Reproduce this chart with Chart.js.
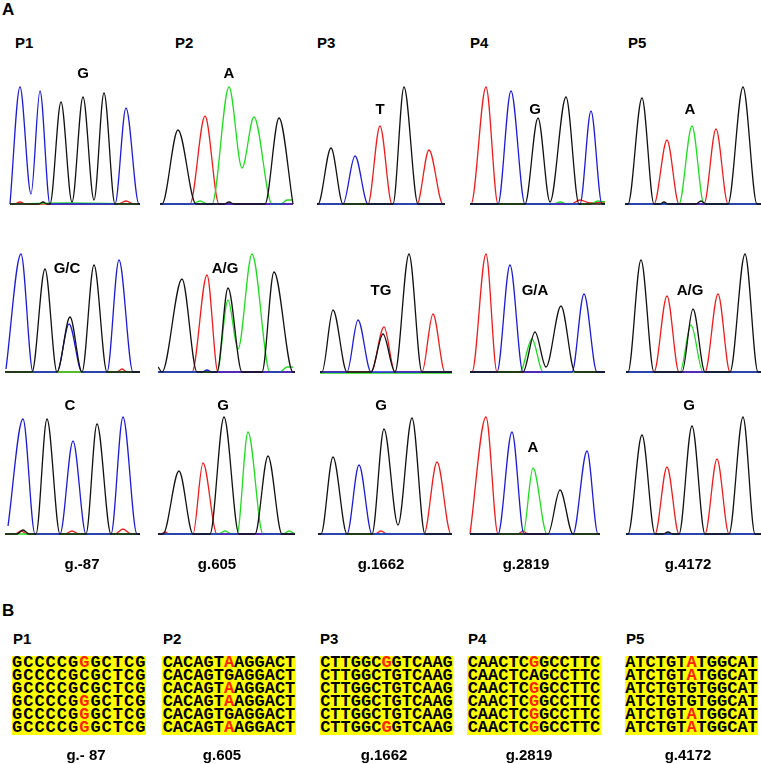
<!DOCTYPE html>
<html>
<head>
<meta charset="utf-8">
<script src="https://cdn.jsdelivr.net/npm/chart.js@4"></script>
<style>
  body { margin: 0; background: #fff; }
  #fig { position: relative; width: 761px; height: 764px; overflow: hidden; background: #fff;
         font-family: Arial, "Liberation Sans", sans-serif; font-weight: bold; color: #000; }
  .lbl { position: absolute; white-space: nowrap; font-size: 15px; line-height: 1; }
  .ctr { transform: translate(-50%, -50%); }
  .lft { transform: translateY(-50%); }
  .big { font-size: 17px; }
  .panel { position: absolute; width: 137px; height: 128px; }
  .seq { position: absolute; background: #ffff00; height: 79px; font-family: "Liberation Mono", "DejaVu Sans Mono", monospace;
         font-weight: bold; font-size: 17px; line-height: 13px; text-align: center; overflow: hidden; }
  .seq span.mut { color: #ff2200; }
</style>
</head>
<body>
<div id="fig"></div>
<script>
// Nombres de muestras y posiciones
const panelNames = ['P1', 'P2', 'P3', 'P4', 'P5'];
const variantsA = ['g.-87', 'g.605', 'g.1662', 'g.2819', 'g.4172'];
const variantsB = ['g.- 87', 'g.605', 'g.1662', 'g.2819', 'g.4172'];
const baseCalls = [
    ['G', 'A', 'T', 'G', 'A'],
    ['G/C', 'A/G', 'TG', 'G/A', 'A/G'],
    ['C', 'G', 'G', 'A', 'G']
];

// Picos de los cromatogramas: [posición, altura] por color
const r1p1 = {
    black: [[5,0],[34,0],[38,2],[42,0],[45,0],[56,102],[67,2],[78,107],[89,4],[99,111],[110,0],[135,0]],
    blue:  [[5,0],[15,117],[26,10],[35,113],[45,0],[110,0],[121,96],[134,0],[135,0]],
    green: [[5,0],[60,1],[135,0]],
    red:   [[5,0],[9,0],[15,2],[21,0],[113,0],[121,3],[129,0],[135,0]]
};
const r1p2 = {
    black: [[2,0],[4,0],[20,74],[38,0],[66,0],[71,2],[76,0],[107,0],[121,86],[135,0]],
    blue:  [[2,0],[135,0]],
    green: [[2,0],[34,0],[42,3],[50,0],[54,0],[71,117],[84,36],[96,87],[114,0],[123,0],[129,4],[135,4]],
    red:   [[2,0],[32,0],[47,88],[61,0],[135,0]]
};
const r1p3 = {
    black: [[2,0],[3,0],[16,56],[28,0],[78,0],[89,117],[103,0],[130,0]],
    blue:  [[2,0],[28,0],[40,48],[53,0],[130,0]],
    green: [[2,0],[130,0]],
    red:   [[2,0],[53,0],[65,78],[77,0],[102,0],[114,54],[128,0],[130,0]]
};
const r1p4 = {
    black: [[2,0],[57,0],[70,86],[82,2],[98,107],[111,0],[137,0]],
    blue:  [[2,0],[30,0],[43,113],[57,0],[112,0],[123,93],[134,0],[137,0]],
    green: [[2,0],[85,0],[92,2],[100,0],[122,0],[130,3],[137,2]],
    red:   [[2,0],[3,0],[18,117],[30,0],[103,0],[112,4],[122,1],[137,2]]
};
const r1p5 = {
    black: [[1,0],[4,0],[18,106],[30,0],[36,0],[40,2],[44,0],[72,0],[77,3],[82,0],[104,0],[119,117],[133,0],[137,0]],
    blue:  [[1,0],[137,0]],
    green: [[1,0],[55,0],[68,78],[80,0],[137,0]],
    red:   [[1,0],[30,0],[43,64],[55,0],[80,0],[92,75],[104,0],[137,0]]
};
const r2p1 = {
    black: [[0,0],[27,0],[40,103],[52,0],[65,55],[77,0],[89,107],[102,0],[135,0]],
    blue:  [[1,3],[16,118],[28,0],[52,0],[64,48],[77,0],[102,0],[114,112],[128,0],[135,0]],
    green: [[0,0],[135,0]],
    red:   [[0,0],[112,0],[117,3],[122,0],[135,0]]
};
const r2p2 = {
    black: [[0,5],[4,0],[24,93],[39,0],[59,0],[70,84],[84,0],[104,0],[116,100],[135,0],[137,0]],
    blue:  [[0,0],[44,0],[49,2],[54,0],[137,0]],
    green: [[0,0],[59,0],[70,72],[80,23],[94,118],[112,0],[122,0],[129,5],[135,5]],
    red:   [[0,0],[34,0],[49,97],[60,0],[137,0]]
};
const r2p3 = {
    black: [[5,0],[7,0],[18,62],[32,0],[56,0],[68,38],[80,0],[94,118],[107,0],[137,0]],
    blue:  [[5,0],[32,0],[43,52],[56,0],[137,0]],
    green: [[5,-1],[137,-1]],
    red:   [[5,0],[56,0],[69,45],[80,0],[107,0],[118,58],[130,0],[137,0]]
};
const r2p4 = {
    black: [[2,0],[55,0],[67,40],[78,5],[93,66],[107,0],[137,0]],
    blue:  [[2,0],[29,0],[42,107],[55,0],[104,0],[116,78],[129,0],[137,0]],
    green: [[2,0],[52,0],[64,33],[75,0],[137,0]],
    red:   [[2,0],[4,0],[18,118],[29,0],[137,0]]
};
const r2p5 = {
    black: [[2,0],[4,0],[17,112],[30,0],[58,0],[69,63],[81,0],[106,0],[121,118],[134,0],[137,0]],
    blue:  [[2,0],[137,0]],
    green: [[2,0],[56,0],[67,47],[79,0],[137,0]],
    red:   [[2,0],[30,0],[43,76],[55,0],[81,0],[94,78],[106,0],[137,0]]
};
const r3p1 = {
    black: [[0,0],[12,0],[18,4],[24,0],[31,0],[42,115],[55,0],[81,0],[92,110],[106,0],[135,0]],
    blue:  [[3,8],[18,115],[30,0],[55,0],[68,93],[81,0],[106,0],[118,117],[132,0],[135,0]],
    green: [[0,0],[135,0]],
    red:   [[0,0],[10,0],[16,3],[22,0],[60,0],[67,3],[74,0],[110,0],[118,5],[126,0],[135,0]]
};
const r3p2 = {
    black: [[0,0],[5,0],[21,63],[35,0],[52,0],[66,117],[81,0],[97,0],[110,78],[124,0],[137,0]],
    blue:  [[0,0],[137,0]],
    green: [[0,0],[60,0],[67,3],[74,0],[79,0],[90,102],[105,0],[125,0],[131,3],[137,0]],
    red:   [[0,0],[3,0],[7,2],[11,0],[35,0],[45,71],[59,0],[137,0]]
};
const r3p3 = {
    black: [[3,0],[6,0],[18,77],[32,0],[57,0],[69,105],[83,9],[97,116],[110,0],[137,0]],
    blue:  [[3,0],[32,0],[44,69],[57,0],[137,0]],
    green: [[3,0],[137,0]],
    red:   [[3,0],[60,0],[66,3],[72,0],[109,0],[122,72],[136,0],[137,0]]
};
const r3p4 = {
    black: [[2,0],[80,0],[92,44],[105,0],[132,0]],
    blue:  [[2,0],[30,0],[44,102],[56,0],[105,0],[119,83],[130,0],[132,0]],
    green: [[2,0],[55,0],[65,66],[79,0],[132,0]],
    red:   [[2,0],[18,117],[30,0],[50,0],[55,3],[60,0],[132,0]]
};
const r3p5 = {
    black: [[2,0],[4,0],[18,99],[31,0],[39,0],[44,2],[49,0],[55,0],[68,108],[81,0],[105,0],[119,117],[131,0],[137,0]],
    blue:  [[2,0],[137,0]],
    green: [[2,0],[137,0]],
    red:   [[2,0],[31,0],[43,67],[55,0],[81,0],[93,75],[105,0],[137,0]]
};
const traces = [
    [r1p1, r1p2, r1p3, r1p4, r1p5],
    [r2p1, r2p2, r2p3, r2p4, r2p5],
    [r3p1, r3p2, r3p3, r3p4, r3p5]
];

// Alineamientos de secuencia (B)
const seqP1 = ['GCCCCGGGCTCG', 'GCCCCGCGCTCG', 'GCCCCGCGCTCG', 'GCCCCGGGCTCG', 'GCCCCGGGCTCG', 'GCCCCGGGCTCG'];
const seqP2 = ['CACAGTAAGGACT', 'CACAGTGAGGACT', 'CACAGTAAGGACT', 'CACAGTAAGGACT', 'CACAGTGAGGACT', 'CACAGTAAGGACT'];
const seqP3 = ['CTTGGCGGTCAAG', 'CTTGGCTGTCAAG', 'CTTGGCTGTCAAG', 'CTTGGCTGTCAAG', 'CTTGGCTGTCAAG', 'CTTGGCGGTCAAG'];
const seqP4 = ['CAACTCGGCCTTC', 'CAACTCAGCCTTC', 'CAACTCGGCCTTC', 'CAACTCGGCCTTC', 'CAACTCGGCCTTC', 'CAACTCGGCCTTC'];
const seqP5 = ['ATCTGTATGGCAT', 'ATCTGTATGGCAT', 'ATCTGTGTGGCAT', 'ATCTGTGTGGCAT', 'ATCTGTATGGCAT', 'ATCTGTATGGCAT'];
const redRows = [[0, 3, 4, 5], [0, 2, 3, 5], [0, 5], [0, 2, 3, 4, 5], [0, 1, 4, 5]];
const mutIndex = 6;

// Layout
const fig = document.getElementById('fig');
const panelLefts = [5, 158, 315, 468, 624];
const rowBaselines = [204, 372, 534];
const callPos = [
    [[83, 72], [229, 72], [380, 108], [535, 108], [690, 108]],
    [[67, 267], [225, 267], [381, 289], [535, 289], [690, 289]],
    [[70, 404], [223, 404], [381, 404], [533, 446], [689, 404]]
];
const nameLeftsA = [15, 175, 317, 470, 628];
const nameLeftsB = [13, 163, 320, 468, 626];
const varXA = [82, 217, 381, 526, 688];
const varXB = [86, 222, 384, 529, 688];
const boxes = [[12, 134], [162, 134], [320, 133], [467, 134], [625, 133]];
const traceColors = { black: '#111111', blue: '#1c1cd8', green: '#1fdc1f', red: '#f01c1c' };

function addLabel(text, x, y, cls) {
    const d = document.createElement('div');
    d.className = 'lbl ' + cls;
    d.style.left = x + 'px';
    d.style.top = y + 'px';
    d.textContent = text;
    fig.appendChild(d);
    return d;
}

function makeChart(trace, left, baseline) {
    const wrap = document.createElement('div');
    wrap.className = 'panel';
    wrap.style.left = left + 'px';
    wrap.style.top = (baseline - 125) + 'px';
    const canvas = document.createElement('canvas');
    wrap.appendChild(canvas);
    fig.appendChild(wrap);

    const order = ['black', 'blue', 'green', 'red'];
    const datasets = order.filter(c => trace[c]).map(c => ({
        data: trace[c].map(p => ({ x: p[0], y: p[1] })),
        borderColor: traceColors[c],
        borderWidth: 1.3,
        pointRadius: 0,
        fill: false,
        cubicInterpolationMode: 'monotone'
    }));

    return new Chart(canvas.getContext('2d'), {
        type: 'line',
        data: { datasets: datasets },
        options: {
            responsive: true,
            maintainAspectRatio: false,
            animation: false,
            events: [],
            layout: { padding: 0 },
            plugins: { legend: { display: false }, tooltip: { enabled: false } },
            scales: {
                x: { type: 'linear', min: 0, max: 137, display: false },
                y: { min: -3, max: 125, display: false }
            }
        }
    });
}

// Panel A
addLabel('A', 2, 9, 'lft big');
panelNames.forEach((n, i) => addLabel(n, nameLeftsA[i], 42, 'lft'));
traces.forEach((row, r) => {
    row.forEach((trace, c) => {
        makeChart(trace, panelLefts[c], rowBaselines[r]);
        const p = callPos[r][c];
        addLabel(baseCalls[r][c], p[0], p[1], 'ctr');
    });
});
variantsA.forEach((v, i) => addLabel(v, varXA[i], 563, 'ctr'));

// Panel B
addLabel('B', 2, 610, 'lft big');
panelNames.forEach((n, i) => addLabel(n, nameLeftsB[i], 638, 'lft'));
[seqP1, seqP2, seqP3, seqP4, seqP5].forEach((seq, i) => {
    const box = document.createElement('div');
    box.className = 'seq';
    box.style.left = boxes[i][0] + 'px';
    box.style.width = boxes[i][1] + 'px';
    box.style.top = '656px';
    if (seq[0].length < 13) box.style.letterSpacing = '1px';
    seq.forEach((s, row) => {
        const line = document.createElement('div');
        const mut = redRows[i].includes(row);
        line.appendChild(document.createTextNode(s.slice(0, mutIndex)));
        const sp = document.createElement('span');
        if (mut) sp.className = 'mut';
        sp.textContent = s[mutIndex];
        line.appendChild(sp);
        line.appendChild(document.createTextNode(s.slice(mutIndex + 1)));
        box.appendChild(line);
    });
    fig.appendChild(box);
});
variantsB.forEach((v, i) => addLabel(v, varXB[i], 754, 'ctr'));
</script>
</body>
</html>
